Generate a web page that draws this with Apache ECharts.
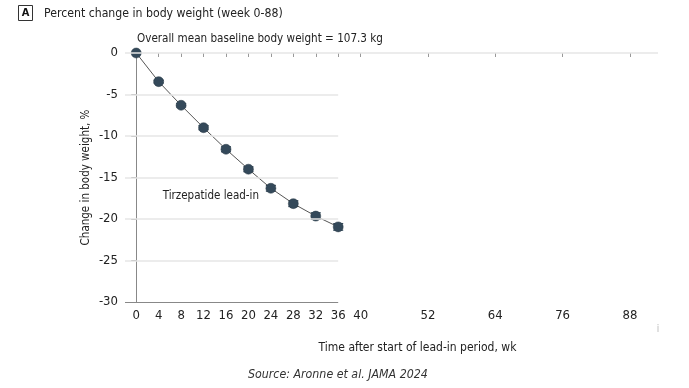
<!DOCTYPE html>
<html>
<head>
<meta charset="utf-8">
<script src="https://cdn.jsdelivr.net/npm/echarts@6/dist/echarts.min.js"></script>
<style>html,body{margin:0;padding:0;background:#fff}#c{width:689px;height:388px}</style>
</head>
<body>
<div id="c"></div>
<script>
var weeks = [0, 4, 8, 12, 16, 20, 24, 28, 32, 36];
var pctChange = [0, -3.45, -6.3, -9.0, -11.6, -14.0, -16.3, -18.15, -19.65, -20.95];
var errHalf = [0, 0.15, 0.2, 0.25, 0.3, 0.3, 0.35, 0.35, 0.4, 0.4];
var xTickLabels = [0, 4, 8, 12, 16, 20, 24, 28, 32, 36, 40, 52, 64, 76, 88];
var yTickLabels = [0, -5, -10, -15, -20, -25, -30];
var leadInEnd = 36;
var xMin = -2, xMax = 93;

var FONT = '"Liberation Sans Narrow", "DejaVu Sans Condensed", "Noto Sans", sans-serif';
var chart = echarts.init(document.getElementById('c'));

var gridLines = yTickLabels.filter(function (v) { return v !== -30; }).map(function (v) {
  return [{ coord: [xMin, v] }, { coord: [v === 0 ? xMax : leadInEnd, v] }];
});

chart.setOption({
  animation: false,
  textStyle: { fontFamily: FONT },
  title: [
    { text: 'Percent change in body weight (week 0-88)', left: 44, top: 8, padding: 0,
      textStyle: { fontFamily: FONT, fontSize: 12.2, fontWeight: 'normal', color: '#222' } },
    { text: 'Overall mean baseline body weight = 107.3 kg', left: 137, top: 33, padding: 0,
      textStyle: { fontFamily: FONT, fontSize: 11.6, fontWeight: 'normal', color: '#222' } },
    { text: 'Source: Aronne et al. JAMA 2024', left: 248, top: 369, padding: 0,
      textStyle: { fontFamily: FONT, fontSize: 12.3, fontWeight: 'normal', fontStyle: 'italic', color: '#333' } }
  ],
  graphic: [
    { type: 'rect', shape: { x: 18.5, y: 5.5, width: 14, height: 15 },
      style: { fill: '#fff', stroke: '#333', lineWidth: 1 } },
    { type: 'text', x: 25.5, y: 13.5,
      style: { text: 'A', font: 'bold 11px ' + FONT, fill: '#111', align: 'center', verticalAlign: 'middle' } },
    { type: 'text', x: 658, y: 329,
      style: { text: 'i', font: '10px ' + FONT, fill: '#bbb', align: 'center', verticalAlign: 'middle' } }
  ],
  grid: { left: 125, right: 31, top: 53, bottom: 86 },
  xAxis: {
    type: 'value', min: xMin, max: xMax,
    name: 'Time after start of lead-in period, wk', nameLocation: 'middle', nameGap: 40,
    nameTextStyle: { fontFamily: FONT, fontSize: 12, color: '#222', padding: [0, 0, 0, 52] },
    axisLine: { show: false },
    splitLine: { show: false },
    axisTick: { show: true, customValues: xTickLabels, length: 4, lineStyle: { color: '#999' } },
    axisLabel: { customValues: xTickLabels, fontFamily: FONT, fontSize: 13, color: '#222', margin: 7 }
  },
  yAxis: {
    type: 'value', min: -30, max: 0, interval: 5,
    name: 'Change in body weight, %', nameLocation: 'middle', nameGap: 33,
    nameMoveOverlap: false,
    nameTextStyle: { fontFamily: FONT, fontSize: 11.5, color: '#222' },
    axisLine: { show: true, lineStyle: { color: '#888', width: 1 } },
    axisTick: { show: true, length: 5, lineStyle: { color: '#888' } },
    splitLine: { show: false },
    axisLabel: { fontFamily: FONT, fontSize: 13, color: '#222', margin: 7 }
  },
  series: [
    {
      type: 'line', data: [], z: 1, silent: true,
      markLine: {
        silent: true, symbol: 'none', label: { show: false },
        lineStyle: { color: '#e6e6e6', width: 1.5, type: 'solid' },
        data: gridLines.concat([[
          { coord: [xMin, -30], lineStyle: { color: '#888', width: 1 } },
          { coord: [leadInEnd, -30] }
        ]])
      }
    },
    {
      type: 'custom', z: 3, silent: true,
      data: weeks.map(function (w, i) { return [w, pctChange[i], errHalf[i]]; }),
      renderItem: function (params, api) {
        var x = api.value(0), y = api.value(1), e = api.value(2);
        var p1 = api.coord([x, y + e]), p2 = api.coord([x, y - e]);
        var hw = 5;
        var st = { stroke: '#34495a', lineWidth: 1.2 };
        return { type: 'group', children: [
          { type: 'line', shape: { x1: p1[0], y1: p1[1], x2: p2[0], y2: p2[1] }, style: st },
          { type: 'line', shape: { x1: p1[0] - hw, y1: p1[1], x2: p1[0] + hw, y2: p1[1] }, style: st },
          { type: 'line', shape: { x1: p2[0] - hw, y1: p2[1], x2: p2[0] + hw, y2: p2[1] }, style: st }
        ]};
      }
    },
    {
      type: 'line', z: 4,
      data: weeks.map(function (w, i) { return [w, pctChange[i]]; }),
      symbol: 'circle', symbolSize: 10, showSymbol: true,
      lineStyle: { color: '#555', width: 1 },
      itemStyle: { color: '#34495a', borderColor: '#2a3a47', borderWidth: 0.5 },
      label: { show: false },
      markPoint: {
        symbol: 'rect', symbolSize: 0,
        label: { show: true, formatter: 'Tirzepatide lead-in', fontFamily: FONT, fontSize: 11.5, color: '#222' },
        data: [{ coord: [13.3, -17.2] }]
      }
    }
  ]
});
</script>
</body>
</html>
